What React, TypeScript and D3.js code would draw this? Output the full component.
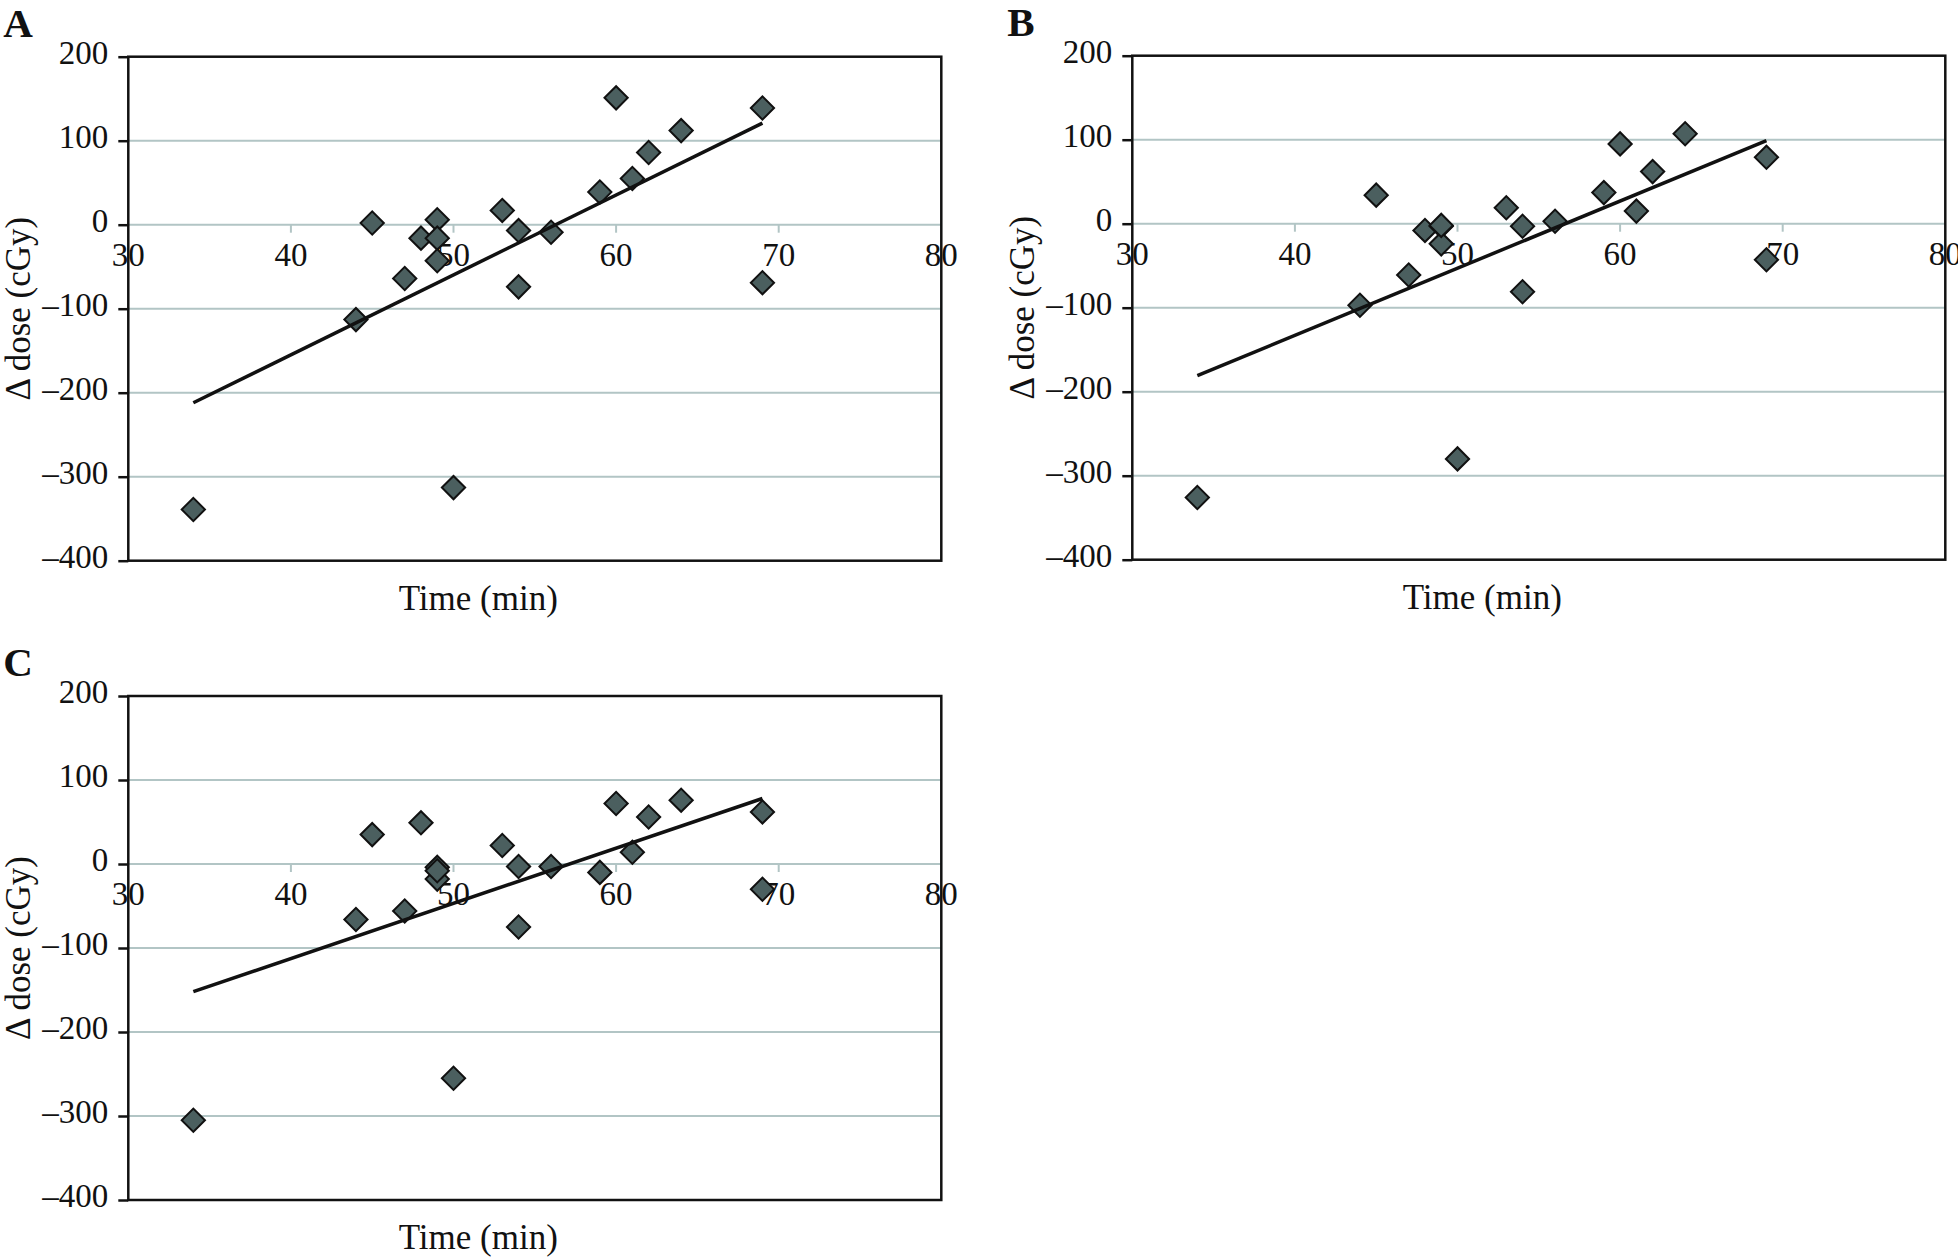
import * as d3 from "d3";
import React, { useEffect, useRef } from "react";

// times (min) are shared by the three panels
const times = [34, 44, 45, 47, 48, 49, 49, 49, 50, 53, 54, 54, 56, 59, 60, 61, 62, 64, 69, 69];
const doseA = [-339, -113, 2, -64, -16, 6, -16, -43, -313, 17, -7, -74, -9, 39, 151, 55, 86, 112, 139, -69];
const doseB = [-326, -97, 34, -61, -8, -3, -24, -2, -280, 19, -3, -81, 3, 37, 95, 15, 62, 107, 79, -43];
const doseC = [-305, -66, 35, -56, 49, -4, -18, -8, -255, 22, -3, -75, -3, -10, 72, 14, 56, 76, 62, -30];

// trend line end points
const trendA: [number, number][] = [[34, -212], [69, 121]];
const trendB: [number, number][] = [[34, -181], [69, 99]];
const trendC: [number, number][] = [[34, -152], [69, 78]];

const xTicks = [30, 40, 50, 60, 70, 80];
const yTicks = [200, 100, 0, -100, -200, -300, -400];

const xLabel = "Time (min)";
const yLabel = "\u0394 dose (cGy)";

const W = 813;
const H = 504;
const FONT = "'Liberation Serif', 'Times New Roman', serif";
const GRID = "#b2c5c5";

const fmt = (d: number) => (d < 0 ? "\u2013" + Math.abs(d) : String(d));

interface PanelProps {
  label: string;
  left: number;
  top: number;
  doses: number[];
  trend: [number, number][];
}

function Panel({ label, left, top, doses, trend }: PanelProps) {
  const yAxisRef = useRef<SVGGElement>(null);

  const x = d3.scaleLinear().domain([30, 80]).range([0, W]);
  const y = d3.scaleLinear().domain([-400, 200]).range([H, 0]);

  useEffect(() => {
    const yAxis = d3.axisLeft(y)
      .tickValues(yTicks)
      .tickSize(10)
      .tickSizeOuter(0)
      .tickPadding(10)
      .tickFormat((d) => fmt(d as number));
    const g = d3.select(yAxisRef.current);
    g.call(yAxis);
    g.select(".domain").remove();
    g.selectAll(".tick line").attr("stroke", "#111").attr("stroke-width", 2.5);
    g.selectAll(".tick text")
      .attr("fill", "#111")
      .attr("dy", "0.2em")
      .style("font-family", FONT)
      .style("font-size", "33px");
  }, []);

  const diamond = d3.symbol(d3.symbolSquare, 270)();
  const line = d3.line<[number, number]>()
    .x((d) => x(d[0]))
    .y((d) => y(d[1]));

  return (
    <g transform={`translate(${left},${top})`}>
      <text x={-125} y={-20} fontFamily={FONT} fontWeight="bold" fontSize={41} fill="#111">
        {label}
      </text>
      {yTicks.slice(1, -1).map((v) => (
        <line key={v} x1={0} x2={W} y1={y(v)} y2={y(v)} stroke={GRID} strokeWidth={2} />
      ))}
      {xTicks.slice(1, -1).map((v) => (
        <line key={v} x1={x(v)} x2={x(v)} y1={y(0)} y2={y(0) + 8} stroke={GRID} strokeWidth={2} />
      ))}
      {xTicks.map((v) => (
        <text key={v} x={x(v)} y={y(0) + 41} textAnchor="middle" fontFamily={FONT} fontSize={33} fill="#111">
          {v}
        </text>
      ))}
      <rect x={0} y={0} width={W} height={H} fill="none" stroke="#111" strokeWidth={2.5} />
      <g ref={yAxisRef}></g>
      {times.map((t, i) => (
        <path
          key={i}
          d={diamond || ""}
          transform={`translate(${x(t)},${y(doses[i])}) rotate(45)`}
          fill="#4b5f5f"
          stroke="#111"
          strokeWidth={2}
        />
      ))}
      <path d={line(trend) || ""} fill="none" stroke="#111" strokeWidth={3.5} />
      <text x={350} y={H + 49} textAnchor="middle" fontFamily={FONT} fontSize={35} fill="#111">
        {xLabel}
      </text>
      <text
        transform={`translate(-98,${H / 2}) rotate(-90)`}
        textAnchor="middle"
        fontFamily={FONT}
        fontSize={35}
        fill="#111"
      >
        {yLabel}
      </text>
    </g>
  );
}

export default function App() {
  return (
    <svg
      width={1958}
      height={1259}
      style={{ position: "absolute", left: 0, top: 0, background: "#fff" }}
    >
      <rect width={1958} height={1259} fill="#fff" />
      <Panel label="A" left={128.3} top={56.7} doses={doseA} trend={trendA} />
      <Panel label="B" left={1132.3} top={55.7} doses={doseB} trend={trendB} />
      <Panel label="C" left={128.3} top={696} doses={doseC} trend={trendC} />
    </svg>
  );
}
